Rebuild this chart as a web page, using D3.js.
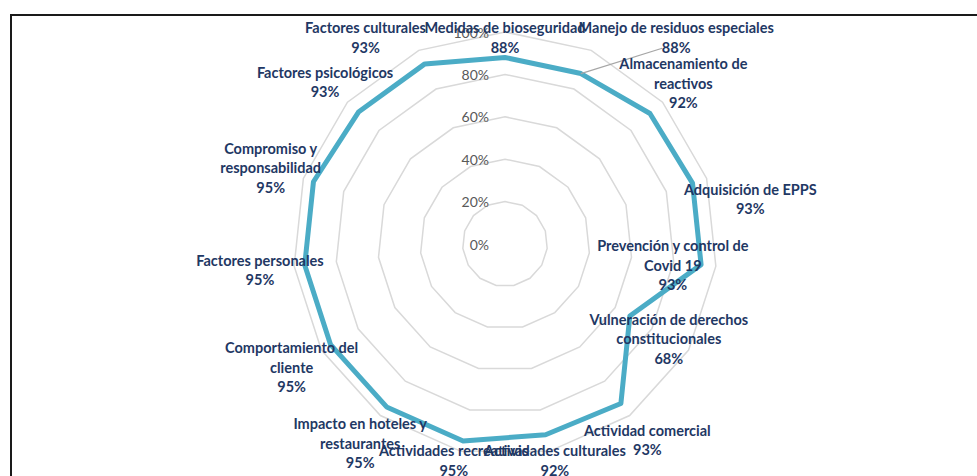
<!DOCTYPE html>
<head>
    <meta charset="utf-8">
    <script src="https://d3js.org/d3.v7.min.js"></script>
    <style>
        body { margin: 0; background: #fff; }
        svg { display: block; }
    </style>
</head>
<body>
    <svg></svg>
</body>

<script>
    // Data
    var categories = [
        "Medidas de bioseguridad",
        "Manejo de residuos especiales",
        "Almacenamiento de\nreactivos",
        "Adquisición de EPPS",
        "Prevención y control de\nCovid 19",
        "Vulneración de derechos\nconstitucionales",
        "Actividad comercial",
        "Actividades culturales",
        "Actividades recreativas",
        "Impacto en hoteles y\nrestaurantes",
        "Comportamiento del\ncliente",
        "Factores personales",
        "Compromiso y\nresponsabilidad",
        "Factores psicológicos",
        "Factores culturales"
    ];
    var values = [0.88, 0.88, 0.92, 0.93, 0.93, 0.68, 0.93, 0.92, 0.95, 0.95, 0.95, 0.95, 0.95, 0.93, 0.93];
    var ticks = [0, 0.2, 0.4, 0.6, 0.8, 1.0];

    // Variables
    var width = 977;
    var height = 476;
    var cx = 505, cy = 244;
    var radius = 212;
    var lineH = 19.5;
    var labelPad = 45;
    // labels that were dragged in the original (dx, dy) and which got a leader line
    var labelNudge = { 1: [77, 0], 3: [15, 30], 4: [-73, -4], 14: [-41, 0] };
    var leaders = [1];

    var svg = d3.select('svg')
        .attr('width', width)
        .attr('height', height);

    // chart frame
    svg.append('rect')
        .attr('x', 11).attr('y', 15)
        .attr('width', 980).attr('height', 480)
        .attr('fill', 'none')
        .attr('stroke', '#1a1a1a')
        .attr('stroke-width', 2);

    var g = svg.append('g')
        .attr('transform', 'translate(' + cx + ',' + cy + ')');

    var r = d3.scaleLinear().domain([0, 1]).range([0, radius]);
    var angle = d3.scaleLinear().domain([0, categories.length]).range([0, 2 * Math.PI]);

    var radial = d3.lineRadial()
        .curve(d3.curveLinearClosed);

    // Grid rings
    g.selectAll('.ring')
        .data(ticks.filter(function (t) { return t > 0; }))
        .enter().append('path')
        .attr('class', 'ring')
        .attr('d', function (t) {
            return radial(categories.map(function (c, i) { return [angle(i), r(t)]; }));
        })
        .attr('fill', 'none')
        .attr('stroke', '#d9d9d9')
        .attr('stroke-width', 1.5);

    // Tick labels
    g.selectAll('.tick')
        .data(ticks)
        .enter().append('text')
        .attr('x', -16)
        .attr('y', function (t) { return -r(t); })
        .attr('text-anchor', 'end')
        .attr('dominant-baseline', 'central')
        .style('font-family', 'Lato, sans-serif')
        .style('font-size', '14px')
        .style('fill', '#595959')
        .text(function (t) { return d3.format('.0%')(t); });

    // Series
    g.append('path')
        .attr('d', radial(values.map(function (v, i) { return [angle(i), r(v)]; })))
        .attr('fill', 'none')
        .attr('stroke', '#4bacc6')
        .attr('stroke-width', 5)
        .attr('stroke-linejoin', 'round');

    // Data labels
    function point(a, d) { return [d * Math.sin(a), -d * Math.cos(a)]; }

    categories.forEach(function (c, i) {
        var lines = c.split('\n').concat([d3.format('.0%')(values[i])]);
        var boxH = lines.length * lineH;
        var p = point(angle(i), r(values[i]) + labelPad);
        var x = p[0], y = p[1];
        // keep inside chart area
        var top = 18 - cy, bottom = 480 - cy;
        if (y - boxH / 2 < top) y = top + boxH / 2;
        if (y + boxH / 2 > bottom) y = bottom - boxH / 2;
        var n = labelNudge[i] || [0, 0];
        x += n[0]; y += n[1];

        if (leaders.indexOf(i) >= 0) {
            var v = point(angle(i), r(values[i]));
            g.append('line')
                .attr('x1', v[0]).attr('y1', v[1])
                .attr('x2', x - 14).attr('y2', y + boxH / 2 - lineH / 2 + 1)
                .attr('stroke', '#a6a6a6')
                .attr('stroke-width', 1.3);
        }

        var t = g.append('text')
            .attr('text-anchor', 'middle')
            .style('font-family', 'Lato, sans-serif')
            .style('font-size', '14.5px')
            .style('font-weight', 'bold')
            .style('fill', '#1f3864');
        lines.forEach(function (l, k) {
            t.append('tspan')
                .attr('x', x)
                .attr('y', y - boxH / 2 + lineH * (k + 0.5))
                .attr('dominant-baseline', 'central')
                .text(l);
        });
    });
</script>
